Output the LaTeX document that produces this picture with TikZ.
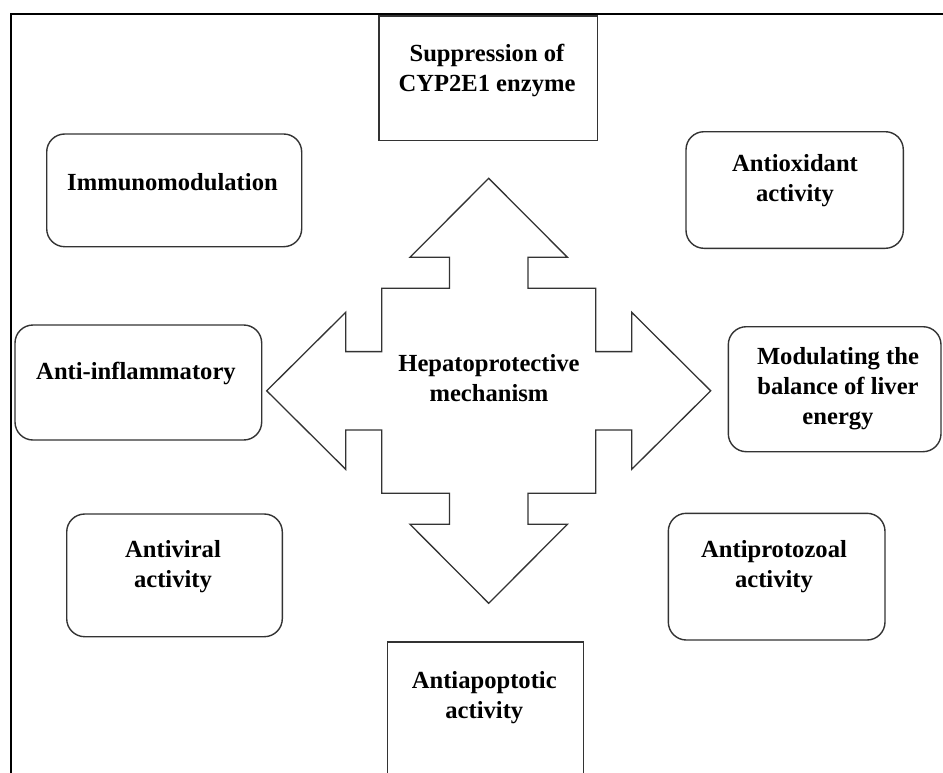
\documentclass[tikz,border=0pt]{standalone}
\usepackage{fontspec}
\setmainfont{Liberation Serif}
\begin{document}
\begin{tikzpicture}[x=1pt,y=-1pt,
  frame/.style={line width=2.7pt,black},
  box/.style={draw=black!80,line width=1.4pt,fill=white},
  rbox/.style={box,rounded corners=18pt},
  lbl/.style={font=\fontsize{24.6}{30}\selectfont\bfseries,align=center,inner sep=0pt,text=black},
  bigarrow/.style={draw=black!80,line width=1.3pt,fill=white}]
\useasboundingbox (0,0) rectangle (943,772);
% frame
\draw[frame] (11,780) -- (11,14) -- (950,14);
% top and bottom square boxes
\draw[box] (379,16) rectangle (597.7,140.7);
\draw[box] (387.3,790) -- (387.3,642) -- (583.3,642) -- (583.3,790);
% rounded boxes
\draw[rbox] (46.7,134) rectangle (301.7,246.7);
\draw[rbox] (686,131.7) rectangle (903.3,248.3);
\draw[rbox] (15,325) rectangle (261.7,440);
\draw[rbox] (728.3,326.7) rectangle (941,451.7);
\draw[rbox] (66.7,514) rectangle (282.3,636.7);
\draw[rbox] (668.3,513.3) rectangle (885,640);
% central four-way arrow
\begin{scope}[shift={(488.7,390.8)}]
\draw[bigarrow] (0,-212.5) -- (78.7,-133.5) -- (39.2,-133.5) -- (39.2,-102.5) -- (107,-102.5) -- (107,-39.2)
  -- (143,-39.2) -- (143,-78.5) -- (222,0) -- (143,78.5) -- (143,39.2) -- (107,39.2)
  -- (107,102.5) -- (39.2,102.5) -- (39.2,133.5) -- (78.7,133.5) -- (0,212.5)
  -- (-78.7,133.5) -- (-39.2,133.5) -- (-39.2,102.5) -- (-107,102.5) -- (-107,39.2)
  -- (-143,39.2) -- (-143,78.5) -- (-222,0) -- (-143,-78.5) -- (-143,-39.2) -- (-107,-39.2)
  -- (-107,-102.5) -- (-39.2,-102.5) -- (-39.2,-133.5) -- (-78.7,-133.5) -- cycle;
\end{scope}
% labels
\node[lbl] (sup) at (487,70.1) {Suppression of\\CYP2E1 enzyme};
\node[lbl] (imm) at (172.5,182) {Immunomodulation};
\node[lbl] (aox) at (795,180.4) {Antioxidant\\activity};
\node[lbl] (ainf) at (136,373.4) {Anti-inflammatory};
\node[lbl] (hep) at (489,378.5) {Hepatoprotective\\mechanism};
\node[lbl] (mod) at (838,388.3) {Modulating the\\balance of liver\\energy};
\node[lbl] (avir) at (173,567) {Antiviral\\activity};
\node[lbl] (apro) at (774,567) {Antiprotozoal\\activity};
\node[lbl] (aapo) at (484.3,698) {Antiapoptotic\\activity};
\end{tikzpicture}
\end{document}
